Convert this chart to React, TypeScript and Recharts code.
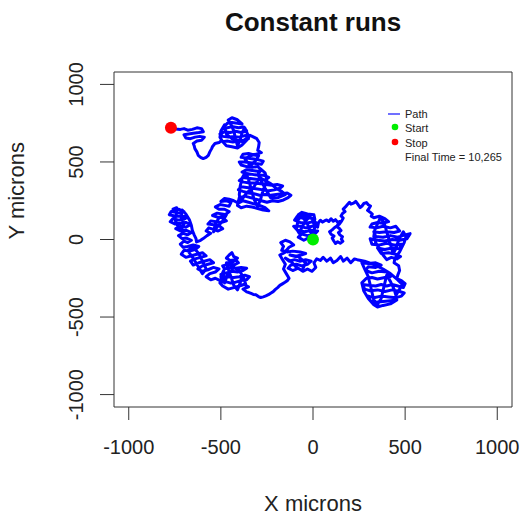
import { ReferenceArea, Scatter, ScatterChart, XAxis, YAxis } from "recharts";

// walk, in microns, in walking order
const pathPoints: [number, number][] = [
  // around the start
  [0, 0], [-25, 10], [-50, -5], [-80, 15], [-60, 35], [-30, 25], [10, 35], [25, 55], [-10, 60],
  [-45, 50], [-85, 60], [-105, 85], [-70, 85], [-40, 75], [-5, 85], [20, 95], [0, 115], [-35, 105],
  [-70, 110], [-100, 125], [-85, 150], [-50, 135], [-20, 140], [10, 130], [5, 160], [-30, 165],
  [-60, 175], [-80, 160], [-50, 155], [-15, 150], [-40, 120], [-60, 80], [-75, 40], [-90, 70],
  [-80, 130], [-60, 150], [-30, 100], [-15, 50], [0, 30], [10, 80], [-5, 135], [15, 110],
  [25, 80], [30, 110],
  // upper path to the right
  [40, 124], [52, 112], [62, 120], [74, 126], [86, 116], [98, 134], [110, 118], [122, 128],
  [134, 112], [146, 116], [136, 98], [128, 84], [142, 72], [152, 58], [138, 44], [146, 30],
  [160, 18], [154, 2], [162, -12], [148, -24], [134, -14], [122, -26], [112, -8], [104, 10],
  [114, 22], [98, 34], [90, 50], [104, 62], [116, 76], [130, 88], [144, 100], [156, 120],
  [164, 138], [152, 152], [160, 168], [174, 180], [164, 196], [176, 210], [186, 224], [198, 240],
  [206, 228], [220, 234], [232, 246], [244, 226], [256, 206], [266, 216], [276, 232], [290, 238],
  [300, 224], [312, 216], [304, 200], [296, 188], [310, 176], [322, 164], [316, 150], [330, 140],
  // right lobe
  [360, 150], [390, 135], [410, 115], [380, 105], [350, 110], [320, 100], [310, 80], [345, 75],
  [380, 85], [420, 75], [450, 85], [470, 55], [440, 45], [400, 50], [360, 45], [330, 50],
  [340, 20], [380, 15], [420, 25], [460, 15], [500, 30], [527, 38], [510, 5], [470, -5],
  [430, 0], [390, -10], [350, -5], [310, 5], [320, -30], [360, -35], [400, -25], [440, -35],
  [480, -30], [470, -60], [430, -55], [390, -65], [350, -55], [370, -90], [410, -85], [450, -95],
  [475, -110], [455, -125], [425, -115], [400, -130], [380, -100], [360, -60], [340, -20],
  [330, 20], [335, 60], [350, 100], [365, 140], [385, 110], [395, 70], [405, 30], [415, -10],
  [425, -50], [435, -90], [450, -60], [460, -20], [475, 20], [490, 50], [505, 20], [495, -20],
  [470, -80], [445, -120], [440, -150], [465, -170], [470, -200], [460, -230], [455, -252],
  // lower right lobe
  [480, -265], [500, -285], [490, -310], [460, -300], [430, -290], [400, -300], [370, -290],
  [340, -300], [300, -295], [270, -290], [280, -320], [310, -330], [350, -325], [390, -335],
  [430, -325], [470, -335], [495, -345], [480, -365], [450, -375], [410, -370], [370, -365],
  [330, -375], [300, -365], [310, -395], [340, -405], [380, -400], [420, -395], [455, -390],
  [420, -415], [380, -425], [350, -435], [330, -420], [300, -380], [275, -330], [265, -280],
  [290, -250], [320, -245], [350, -255], [390, -245], [420, -240], [400, -210], [360, -205],
  [320, -215], [285, -200], [300, -175], [340, -180], [370, -165], [340, -150], [300, -155],
  [265, -150], [280, -190], [300, -240], [310, -290], [320, -340], [330, -390], [350, -420],
  [370, -380], [380, -330], [390, -280], [400, -230], [420, -270], [440, -320], [450, -360],
  [470, -320], [485, -290], [460, -260], [420, -220], [380, -190], [330, -160], [280, -140],
  [240, -130],
  // middle band back to the left
  [225, -125], [205, -150], [185, -120], [165, -140], [150, -110], [130, -135], [110, -150],
  [95, -120], [75, -140], [55, -115], [40, -135], [20, -125],
  // below the start
  [5, -150], [15, -180], [-5, -205], [-30, -190], [-55, -205], [-80, -185], [-110, -200],
  [-135, -185], [-120, -165], [-90, -160], [-60, -170], [-30, -160], [-10, -140], [-40, -130],
  [-70, -140], [-100, -130], [-130, -140], [-150, -120], [-120, -140], [-90, -180], [-60, -200],
  [-40, -150], [-80, -110], [-125, -100], [-95, -110], [-65, -100], [-40, -90], [-70, -80],
  [-110, -75], [-140, -80], [-170, -70], [-160, -45], [-175, -20], [-150, -5], [-125, -15],
  [-105, -35], [-130, -50], [-155, -85], [-180, -100], [-165, -130], [-150, -160], [-160, -190],
  [-145, -220], [-130, -250],
  // bottom loop
  [-140, -266], [-152, -276], [-166, -286], [-180, -296], [-192, -310], [-204, -322], [-216, -336],
  [-230, -346], [-242, -356], [-256, -364], [-270, -370], [-284, -374], [-296, -368], [-310, -356],
  [-324, -354], [-336, -348], [-348, -342], [-360, -338],
  // bottom centre lobe
  [-380, -320], [-350, -305], [-375, -290], [-400, -300], [-430, -310], [-460, -320], [-490, -300],
  [-505, -280], [-480, -270], [-450, -280], [-420, -275], [-390, -265], [-360, -260], [-345, -240],
  [-370, -230], [-400, -240], [-430, -245], [-465, -240], [-495, -250], [-500, -225], [-470, -215],
  [-440, -205], [-410, -210], [-380, -200], [-360, -185], [-390, -180], [-420, -185], [-450, -180],
  [-480, -190], [-490, -170], [-460, -160], [-430, -165], [-405, -150], [-420, -130], [-450, -135],
  [-470, -120], [-455, -100], [-440, -85], [-430, -110], [-410, -120], [-440, -150], [-470, -150],
  [-460, -190], [-445, -240], [-430, -295], [-410, -325], [-395, -280], [-385, -230], [-370, -270],
  [-360, -310], [-375, -250], [-400, -200], [-430, -180], [-465, -230], [-480, -280], [-485, -200],
  [-500, -240], [-495, -270], [-510, -262],
  // lower left lobe
  [-530, -250], [-555, -260], [-580, -240], [-560, -220], [-530, -210], [-510, -190], [-540, -180],
  [-570, -195], [-600, -205], [-625, -190], [-600, -170], [-570, -160], [-540, -150], [-560, -130],
  [-590, -140], [-620, -150], [-650, -165], [-665, -140], [-640, -125], [-610, -115], [-580, -105],
  [-600, -85], [-630, -95], [-660, -105], [-640, -140], [-620, -180], [-600, -220], [-580, -190],
  [-600, -140], [-620, -90], [-650, -50], [-680, -70], [-660, -105], [-690, -115], [-715, -95],
  [-700, -70], [-670, -75], [-640, -65], [-620, -45], [-650, -35], [-680, -45], [-705, -50],
  [-720, -30], [-700, -10], [-680, -20], [-660, -5], [-690, 10], [-710, 5],
  // left lobe
  [-730, 25], [-705, 40], [-680, 30], [-660, 45], [-690, 60], [-720, 55], [-745, 70], [-720, 85],
  [-690, 80], [-665, 95], [-690, 110], [-720, 105], [-750, 100], [-775, 115], [-760, 135],
  [-730, 125], [-700, 130], [-680, 145], [-710, 150], [-745, 150], [-780, 160], [-770, 180],
  [-745, 175], [-720, 170], [-700, 180], [-730, 195], [-760, 195], [-740, 205], [-740, 170],
  [-750, 130], [-735, 90], [-715, 60], [-700, 100], [-715, 140], [-710, 190], [-690, 165],
  [-670, 125], [-660, 90], [-655, 60], [-645, 30], [-635, 5], [-632, -16], [-610, -5], [-596, 6],
  // arm climbing back up
  [-575, 25], [-555, 40], [-580, 55], [-565, 75], [-540, 65], [-515, 55], [-490, 70], [-510, 90],
  [-540, 95], [-570, 100], [-555, 120], [-525, 115], [-495, 110], [-470, 120], [-490, 140],
  [-520, 145], [-545, 155], [-520, 170], [-495, 165], [-470, 160], [-490, 120], [-520, 80],
  [-540, 50], [-530, 100], [-510, 140], [-470, 165], [-455, 180], [-480, 195], [-510, 195],
  [-530, 210], [-505, 225], [-480, 220], [-455, 215], [-445, 240], [-470, 250], [-500, 245],
  [-480, 265], [-455, 260], [-430, 250],
  // central mass
  [-405, 235], [-380, 250], [-350, 240], [-320, 230], [-290, 220], [-260, 205], [-240, 185],
  [-270, 190], [-300, 200], [-330, 210], [-360, 215], [-390, 205], [-410, 220], [-400, 270],
  [-370, 280], [-340, 270], [-310, 260], [-280, 250], [-250, 240], [-220, 250], [-190, 245],
  [-160, 255], [-135, 270], [-120, 285], [-140, 300], [-170, 295], [-200, 290], [-230, 285],
  [-260, 290], [-290, 285], [-320, 295], [-350, 300], [-380, 310], [-405, 320], [-390, 340],
  [-360, 335], [-330, 330], [-300, 325], [-270, 320], [-240, 315], [-210, 320], [-180, 330],
  [-165, 345], [-195, 355], [-225, 350], [-255, 355], [-285, 360], [-315, 365], [-345, 365],
  [-375, 370], [-400, 380], [-380, 400], [-350, 395], [-320, 390], [-290, 385], [-260, 385],
  [-240, 400], [-270, 415], [-300, 415], [-330, 420], [-360, 425], [-385, 435], [-360, 450],
  [-330, 445], [-300, 440], [-280, 450], [-260, 430], [-250, 390], [-262, 345], [-275, 300],
  [-285, 255], [-300, 215], [-318, 255], [-330, 300], [-340, 345], [-352, 395], [-368, 432],
  [-385, 395], [-395, 345], [-400, 290], [-395, 245], [-360, 300], [-320, 340], [-290, 400],
  [-230, 360], [-200, 330], [-170, 310], [-150, 290], [-190, 270], [-230, 270], [-260, 330],
  [-300, 420], [-280, 450],
  // lobe above
  [-300, 470], [-330, 465], [-360, 470], [-390, 480], [-400, 500], [-370, 500], [-340, 495],
  [-310, 490], [-280, 485], [-270, 505], [-300, 515], [-330, 520], [-360, 525], [-390, 530],
  [-380, 550], [-350, 555], [-320, 545], [-295, 540], [-310, 510], [-340, 475], [-370, 520],
  [-340, 540], [-280, 560], [-300, 575], [-295, 600], [-292, 625], [-305, 650], [-330, 665],
  [-342, 672],
  // top lobe
  [-360, 640], [-385, 610], [-410, 590], [-440, 598], [-470, 605], [-490, 630], [-465, 635],
  [-435, 628], [-405, 635], [-375, 640], [-345, 665], [-370, 670], [-400, 660], [-430, 665],
  [-460, 660], [-490, 665], [-505, 680], [-480, 695], [-450, 690], [-420, 698], [-390, 690],
  [-360, 700], [-375, 725], [-405, 720], [-435, 728], [-465, 720], [-490, 715], [-465, 750],
  [-440, 755], [-410, 750], [-385, 745], [-410, 772], [-440, 785], [-460, 770], [-445, 740],
  [-430, 700], [-420, 650], [-410, 605], [-395, 640], [-385, 690], [-370, 720], [-355, 680],
  [-350, 650], [-380, 630], [-440, 650], [-470, 680], [-480, 740], [-500, 700], [-505, 660],
  [-495, 640],
  // dangling strand and the stop
  [-510, 625], [-532, 619], [-545, 600], [-550, 586], [-560, 565], [-568, 543], [-580, 530],
  [-596, 522], [-610, 530], [-623, 543], [-630, 565], [-641, 586], [-645, 605], [-650, 619],
  [-630, 635], [-605, 640], [-590, 660], [-615, 665], [-640, 660], [-665, 650], [-690, 655],
  [-700, 675], [-675, 680], [-650, 685], [-620, 690], [-595, 695], [-605, 715], [-630, 720],
  [-655, 710], [-680, 705], [-700, 715], [-720, 710], [-745, 712], [-771, 720],
];

const startPoint = [{ x: 0, y: 0 }];
const stopPoint = [{ x: -771, y: 720 }];
const axisTicks = [-1000, -500, 0, 500, 1000];
const legendRows = ["Path", "Start", "Stop", "Final Time = 10,265"];

const pathData = pathPoints.map(([x, y]) => ({ x, y }));

const font = "'Liberation Sans', Arial, Helvetica, sans-serif";

function YTick({ x, y, payload }: any) {
  return (
    <text
      x={x}
      y={y}
      transform={`rotate(-90, ${x}, ${y})`}
      textAnchor="middle"
      fontSize={20}
      fill="#222"
      fontFamily={font}
    >
      {payload.value}
    </text>
  );
}

function Dot({ cx, cy, fill }: any) {
  return <circle cx={cx} cy={cy} r={6} fill={fill} />;
}

export default function App() {
  return (
    <div
      style={{
        position: "absolute",
        left: 0,
        top: 0,
        width: 523,
        height: 519,
        background: "#fff",
        fontFamily: font,
      }}
    >
      <span
        style={{
          position: "absolute",
          left: 313,
          top: 7,
          transform: "translateX(-50%)",
          whiteSpace: "nowrap",
          fontSize: 26,
          fontWeight: "bold",
          color: "#111",
        }}
      >
        Constant runs
      </span>

      <ScatterChart width={523} height={519} margin={{ top: 72, right: 11, bottom: 0, left: 0 }}>
        <XAxis
          type="number"
          dataKey="x"
          domain={[-1080, 1080]}
          ticks={axisTicks}
          allowDataOverflow
          height={112}
          axisLine={false}
          tickSize={13}
          tickMargin={20}
          tickLine={{ stroke: "#333" }}
          tick={{ fontSize: 20, fill: "#222", fontFamily: font }}
          label={{ value: "X microns", position: "insideBottom", offset: 8, fontSize: 22, fill: "#222", fontFamily: font }}
        />
        <YAxis
          type="number"
          dataKey="y"
          domain={[-1080, 1080]}
          ticks={axisTicks}
          allowDataOverflow
          width={114}
          axisLine={false}
          tickSize={14}
          tickMargin={17}
          tickLine={{ stroke: "#333" }}
          tick={<YTick />}
          label={{ value: "Y microns", angle: -90, position: "insideLeft", offset: 16, fontSize: 22, fill: "#222", fontFamily: font }}
        />
        <ReferenceArea x1={-1080} x2={1080} y1={-1080} y2={1080} fill="none" stroke="#333" strokeWidth={1} />
        <Scatter
          data={pathData}
          line={{ stroke: "#0000ff", strokeWidth: 3, strokeLinejoin: "round" }}
          lineType="joint"
          shape={() => <g />}
          isAnimationActive={false}
        />
        <Scatter data={startPoint} fill="#00ee00" shape={<Dot fill="#00ee00" />} isAnimationActive={false} />
        <Scatter data={stopPoint} fill="#ff0000" shape={<Dot fill="#ff0000" />} isAnimationActive={false} />
      </ScatterChart>

      <svg
        width={140}
        height={60}
        style={{ position: "absolute", left: 380, top: 105, overflow: "visible" }}
      >
        <line x1={8} y1={9} x2={20} y2={9} stroke="#7070ff" strokeWidth={2} />
        <circle cx={15} cy={22} r={3.3} fill="#00ee00" />
        <circle cx={15} cy={37} r={3.3} fill="#ff0000" />
        {legendRows.map((row, i) => (
          <text key={row} x={25} y={13 + i * 14.3} fontSize={11} fill="#222" fontFamily={font}>
            {row}
          </text>
        ))}
      </svg>
    </div>
  );
}
